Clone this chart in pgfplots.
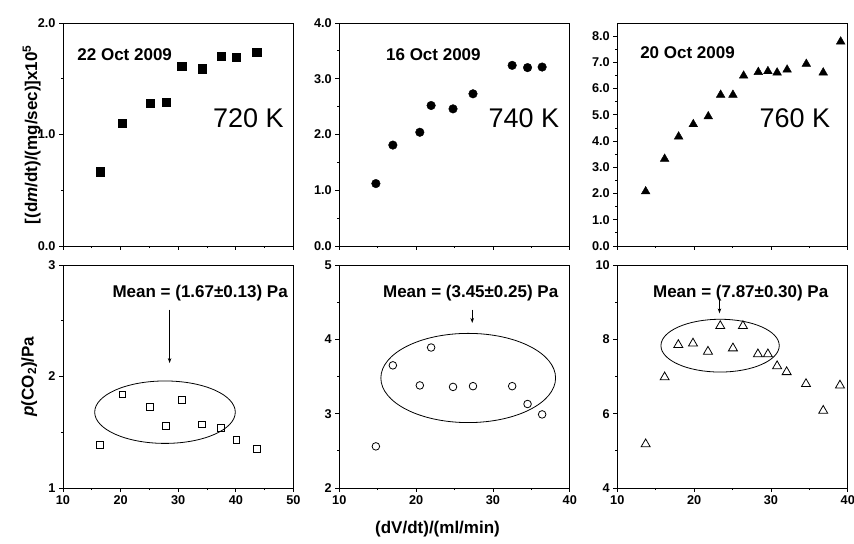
\documentclass[border=0pt]{standalone}
\usepackage{fontspec}
\setmainfont{Liberation Sans}
\usepackage{pgfplots}
\pgfplotsset{compat=1.18}
\usetikzlibrary{arrows.meta}

\pgfplotsset{
  panel/.style={
    scale only axis, width=230.5bp, height=223bp, anchor=south west,
    tick align=outside, tick pos=left,
    major tick length=4bp, minor tick length=2.2bp,
    minor tick num=1,
    axis line style={line width=0.9bp, black},
    tick style={line width=0.8bp, black},
    ticklabel style={font=\fontsize{12.7bp}{14bp}\selectfont\bfseries},
    /pgf/number format/assume math mode=true,
    clip=false,
    label style={font=\fontsize{17bp}{20bp}\selectfont\bfseries},
  },
  toprow/.style={panel, xticklabels={},
    yticklabel style={/pgf/number format/fixed, /pgf/number format/fixed zerofill, /pgf/number format/precision=1}},
  botrow/.style={panel},
}
\tikzset{
  date/.style={font=\fontsize{17bp}{20bp}\selectfont\bfseries, anchor=west, inner sep=0pt},
  temp/.style={font=\fontsize{27bp}{30bp}\selectfont, anchor=west, inner sep=0pt},
  mean/.style={font=\fontsize{17bp}{20bp}\selectfont\bfseries, anchor=center, inner sep=0pt},
  arr/.style={line width=0.7bp, -{Stealth[length=5bp,width=3.5bp]}},
  ell/.style={line width=0.8bp},
}

\begin{document}
\begin{tikzpicture}
\path[use as bounding box] (0,0) rectangle (854bp,544bp);

% ---------- top left ----------
\begin{axis}[toprow, at={(63bp,298bp)},
  xmin=10, xmax=50, ymin=0, ymax=2,
  xtick={10,20,30,40,50}, ytick={0,1,2},
  ylabel={[(d\textit{m}/dt)/(mg/sec)]x10\textsuperscript{5}},
  ylabel style={at={(axis description cs:-0.136,0.5)}, anchor=center}]
\addplot[only marks, mark=square*, mark size=4.1bp, black] coordinates {
(16.4,0.667) (20.3,1.10) (25.1,1.28) (27.9,1.29) (30.6,1.61)
(34.1,1.59) (37.4,1.70) (40.1,1.69) (43.6,1.74)};
\node[date] at (axis cs:12.47,1.72) {22 Oct 2009};
\node[temp] at (axis cs:36.0,1.145) {720 K};
\end{axis}

% ---------- top middle ----------
\begin{axis}[toprow, at={(339.3bp,298bp)},
  xmin=10, xmax=40, ymin=0, ymax=4,
  xtick={10,20,30,40}, ytick={0,1,2,3,4}]
\addplot[only marks, mark=*, mark size=4.3bp, black] coordinates {
(14.76,1.12) (16.97,1.81) (20.48,2.04) (21.95,2.52) (24.8,2.46)
(27.4,2.73) (32.5,3.24) (34.5,3.20) (36.4,3.21)};
\node[date] at (axis cs:16.07,3.44) {16 Oct 2009};
\node[temp] at (axis cs:29.4,2.29) {740 K};
\end{axis}

% ---------- top right ----------
\begin{axis}[toprow, at={(617.3bp,298bp)},
  xmin=10, xmax=40, ymin=0, ymax=8.5,
  xtick={10,20,30,40}, ytick={0,1,2,3,4,5,6,7,8}]
\addplot[only marks, mark=triangle*, mark size=5bp, black] coordinates {
(13.69,2.08) (16.16,3.32) (17.98,4.17) (19.89,4.64) (21.84,4.94)
(23.45,5.76) (25.05,5.76) (26.44,6.49) (28.35,6.63) (29.6,6.66)
(30.8,6.61) (32.1,6.72) (34.6,6.94) (36.8,6.61) (39.07,7.79)};
\node[date] at (axis cs:12.96,7.37) {20 Oct 2009};
\node[temp] at (axis cs:28.5,4.88) {760 K};
\end{axis}

% ---------- bottom left ----------
\begin{axis}[botrow, at={(63bp,56bp)},
  xmin=10, xmax=50, ymin=1, ymax=3,
  xtick={10,20,30,40,50}, ytick={1,2,3},
  ylabel={\textit{p}(CO\textsubscript{2})/Pa},
  ylabel style={at={(axis description cs:-0.147,0.5)}, anchor=center}]
\addplot[only marks, mark=square, mark size=3.4bp, black, mark options={line width=0.8bp}] coordinates {
(16.4,1.39) (20.3,1.84) (25.1,1.73) (27.9,1.56) (30.6,1.79)
(34.1,1.57) (37.4,1.54) (40.1,1.43) (43.6,1.35)};
\draw[ell] (axis cs:27.7,1.68) ellipse [x radius=12.2, y radius=0.28];
\draw[arr] (axis cs:28.5,2.60) -- (axis cs:28.5,2.12);
\node[mean] at (axis cs:33.8,2.75) {Mean = (1.67±0.13) Pa};
\end{axis}

% ---------- bottom middle ----------
\begin{axis}[botrow, at={(339.3bp,56bp)},
  xmin=10, xmax=40, ymin=2, ymax=5,
  xtick={10,20,30,40}, ytick={2,3,4,5}]
\addplot[only marks, mark=o, mark size=3.8bp, black, mark options={line width=0.8bp}] coordinates {
(14.76,2.56) (16.97,3.65) (20.48,3.38) (21.95,3.89) (24.8,3.36)
(27.4,3.37) (32.5,3.37) (34.5,3.13) (36.4,2.99)};
\draw[ell] (axis cs:26.78,3.48) ellipse [x radius=11.37, y radius=0.60];
\draw[arr] (axis cs:27.3,4.40) -- (axis cs:27.3,4.22);
\node[mean] at (axis cs:27.1,4.62) {Mean = (3.45±0.25) Pa};
\end{axis}

% ---------- bottom right ----------
\begin{axis}[botrow, at={(617.3bp,56bp)},
  xmin=10, xmax=40, ymin=4, ymax=10,
  xtick={10,20,30,40}, ytick={4,6,8,10}]
\addplot[only marks, mark=triangle, mark size=5.2bp, black, mark options={line width=0.8bp}] coordinates {
(13.69,5.18) (16.16,6.98) (17.94,7.85) (19.85,7.89) (21.8,7.67)
(23.4,8.36) (25.05,7.76) (26.35,8.36) (28.3,7.60) (29.6,7.60)
(30.8,7.28) (32.04,7.12) (34.56,6.80) (36.8,6.08) (38.98,6.76)};
\draw[ell] (axis cs:23.38,7.83) ellipse [x radius=7.7, y radius=0.71];
\draw[arr] (axis cs:23.3,9.06) -- (axis cs:23.3,8.70);
\node[mean] at (axis cs:26.06,9.24) {Mean = (7.87±0.30) Pa};
\end{axis}

\node[font=\fontsize{17bp}{20bp}\selectfont\bfseries, anchor=center] at (437.5bp,15bp) {(dV/dt)/(ml/min)};
\end{tikzpicture}
\end{document}
